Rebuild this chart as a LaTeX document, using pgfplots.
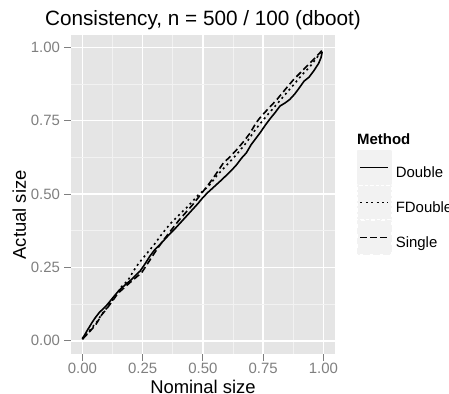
\documentclass[border=0pt]{standalone}
\usepackage{fontspec}
\setmainfont{Liberation Sans}
\usepackage{pgfplots}
\pgfplotsset{compat=1.18}

\definecolor{panelbg}{HTML}{E5E5E5}
\definecolor{minorgrid}{HTML}{F2F2F2}
\definecolor{keybg}{HTML}{F2F2F2}
\definecolor{ticktext}{HTML}{7F7F7F}

\tikzset{curve/.style={black, line width=1.6bp, line join=round, mark=none}}

\begin{document}
\begin{tikzpicture}
\useasboundingbox (-71bp,-40bp) rectangle (378bp,354bp);
\begin{axis}[
  at={(0,0)}, anchor=south west,
  scale only axis,
  width=264bp, height=319bp,
  xmin=-0.047, xmax=1.048,
  ymin=-0.045, ymax=1.042,
  axis background/.style={fill=panelbg},
  axis line style={draw=none},
  xtick={0,0.25,0.5,0.75,1},
  ytick={0,0.25,0.5,0.75,1},
  xticklabels={0.00,0.25,0.50,0.75,1.00},
  yticklabels={0.00,0.25,0.50,0.75,1.00},
  minor xtick={0.125,0.375,0.625,0.875},
  minor ytick={0.125,0.375,0.625,0.875},
  grid=both,
  major grid style={white, line width=1.5bp},
  minor grid style={minorgrid, line width=0.8bp},
  tick align=outside,
  xtick pos=bottom, ytick pos=left,
  major tick length=6.5bp,
  minor tick length=0pt,
  tick style={ticktext, line width=1.1bp},
  ticklabel style={font=\fontsize{15}{18}\selectfont, text=ticktext},
  xticklabel style={yshift=-1bp, inner ysep=1bp},
  yticklabel style={xshift=-1bp},
  xlabel={Nominal size},
  ylabel={Actual size},
  label style={font=\fontsize{18.5}{22}\selectfont, inner sep=0pt},
  xlabel style={at={(axis description cs:0.5,0)}, anchor=base, yshift=-39bp},
  ylabel style={at={(axis description cs:0,0.436)}, anchor=base, rotate=0, yshift=45bp},
  title={Consistency, n = 500 / 100 (dboot)},
  title style={font=\fontsize{20.8}{24}\selectfont, at={(axis description cs:0.5,1)}, anchor=base, yshift=3.3bp},
  legend style={at={(1.0833,0.640)}, anchor=north west, draw=none, fill=none,
    inner sep=0pt, row sep=0.5bp, column sep=0pt,
    font=\fontsize{15}{18}\selectfont,
    nodes={inner xsep=4bp, inner ysep=0pt}},
  legend cell align=left,
  legend image code/.code={
    \fill[keybg] (0bp,-11.1bp) rectangle (33bp,21.9bp);
    \draw[#1] (2.5bp,5.4bp) -- (30.5bp,5.4bp);
  },
]

% Double
\addplot[curve] coordinates {
(0.000,0.008) (0.010,0.020) (0.020,0.035) (0.030,0.048) (0.040,0.062)
(0.055,0.080) (0.070,0.096) (0.085,0.108) (0.100,0.120) (0.120,0.140)
(0.140,0.160) (0.160,0.178) (0.180,0.192) (0.200,0.206) (0.220,0.222)
(0.240,0.238) (0.260,0.262) (0.280,0.288) (0.300,0.310) (0.320,0.326)
(0.340,0.344) (0.360,0.362) (0.380,0.378) (0.400,0.396) (0.420,0.414)
(0.440,0.432) (0.460,0.450) (0.480,0.468) (0.500,0.488) (0.520,0.505)
(0.540,0.520) (0.560,0.535) (0.580,0.550) (0.600,0.566) (0.620,0.582)
(0.640,0.600) (0.660,0.622) (0.680,0.640) (0.700,0.668) (0.720,0.690)
(0.740,0.712) (0.760,0.736) (0.780,0.758) (0.800,0.778) (0.820,0.800)
(0.840,0.810) (0.860,0.822) (0.880,0.840) (0.900,0.862) (0.920,0.885)
(0.940,0.898) (0.960,0.920) (0.980,0.945) (0.990,0.965) (0.995,0.985)
};
\addlegendentry{Double}

% FDouble
\addplot[curve, dash pattern=on 2bp off 3.4bp] coordinates {
(0.000,0.006) (0.020,0.024) (0.040,0.045) (0.060,0.064) (0.080,0.090)
(0.100,0.110) (0.130,0.145) (0.160,0.182) (0.190,0.207) (0.210,0.235)
(0.232,0.262) (0.260,0.290) (0.300,0.330) (0.330,0.364) (0.364,0.398)
(0.400,0.428) (0.440,0.460) (0.480,0.496) (0.525,0.528) (0.560,0.565)
(0.600,0.600) (0.640,0.635) (0.680,0.675) (0.720,0.722) (0.760,0.762)
(0.800,0.800) (0.840,0.838) (0.876,0.872) (0.910,0.905) (0.945,0.935)
(0.970,0.962) (0.995,0.988)
};
\addlegendentry{FDouble}

% Single
\addplot[curve, dash pattern=on 6.5bp off 3.5bp] coordinates {
(0.000,0.005) (0.020,0.022) (0.040,0.040) (0.055,0.054) (0.080,0.088)
(0.100,0.108) (0.120,0.130) (0.148,0.162) (0.170,0.178) (0.200,0.200)
(0.220,0.214) (0.246,0.232) (0.270,0.262) (0.300,0.300) (0.330,0.336)
(0.360,0.368) (0.400,0.410) (0.430,0.438) (0.460,0.466) (0.500,0.508)
(0.530,0.540) (0.560,0.575) (0.585,0.606) (0.610,0.625) (0.640,0.651)
(0.670,0.680) (0.696,0.708) (0.720,0.742) (0.737,0.760) (0.770,0.790)
(0.807,0.822) (0.840,0.855) (0.876,0.890) (0.910,0.918) (0.945,0.947)
(0.970,0.968) (0.995,0.990)
};
\addlegendentry{Single}

\end{axis}
\node[anchor=base west, font=\fontsize{15}{18}\selectfont\bfseries, inner sep=0pt]
  at (286bp,209bp) {Method};
\end{tikzpicture}
\end{document}
